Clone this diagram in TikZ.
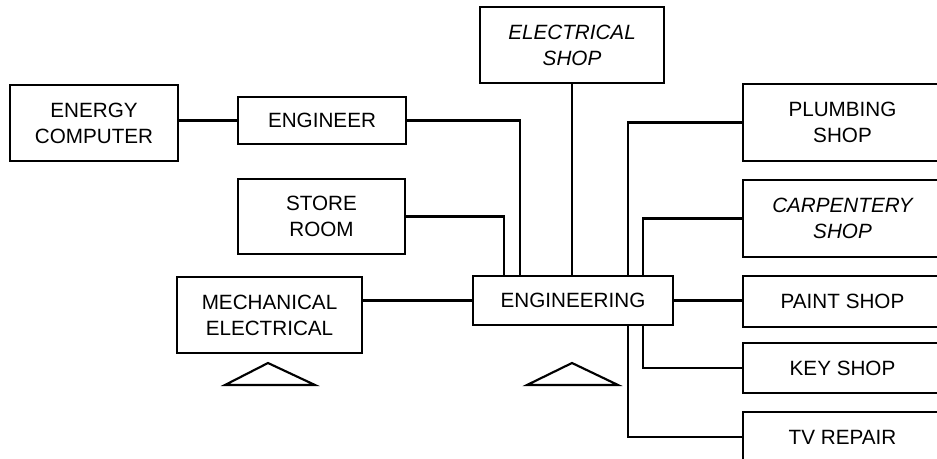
\documentclass[tikz,border=0pt]{standalone}
\usepackage{fontspec}
\setmainfont{Liberation Sans}
\begin{document}
\begin{tikzpicture}[x=0.75pt,y=-0.75pt,
  box/.style={draw=black,line width=1.7pt,fill=white,rectangle,inner sep=0pt,align=center,
    font=\fontsize{15.5}{19.5}\selectfont},
  conn/.style={draw=black,line width=1.6pt},
  tri/.style={draw=black,line width=1.6pt,line join=miter}]
\useasboundingbox (0,0) rectangle (937,459);
\clip (0,0) rectangle (937,459);
\fill[white] (0,0) rectangle (937,459);
% boxes
\node[box,minimum width=126pt,minimum height=57pt] (ec) at (94,123) {ENERGY\\COMPUTER};
\node[box,minimum width=126pt,minimum height=35.25pt] (eng1) at (322,120.5) {ENGINEER};
\node[box,minimum width=125.25pt,minimum height=56.25pt] (store) at (321.5,216.5) {STORE\\ROOM};
\node[box,minimum width=138pt,minimum height=57pt] (elec) at (572,45) {\itshape ELECTRICAL\\\itshape SHOP};
\node[box,minimum width=150pt,minimum height=36.75pt] (engr) at (573,300.5) {ENGINEERING};
\node[box,minimum width=138.75pt,minimum height=57pt] (mech) at (269.5,315) {MECHANICAL\\ELECTRICAL};
\node[box,minimum width=149.25pt,minimum height=57.75pt] (plumb) at (842.5,122.5) {PLUMBING\\SHOP};
\node[box,minimum width=149.25pt,minimum height=57.75pt] (carp) at (842.5,218.5) {\itshape CARPENTERY\\\itshape SHOP};
\node[box,minimum width=149.25pt,minimum height=38.25pt] (paint) at (842.5,301.5) {PAINT SHOP};
\node[box,minimum width=149.25pt,minimum height=37.5pt] (key) at (842.5,368) {KEY SHOP};
\node[box,minimum width=149.25pt,minimum height=37.5pt] (tv) at (842.5,437) {TV REPAIR};
% junction points on ENGINEERING
\coordinate (a1) at (520,276);
\coordinate (a2) at (504,276);
\coordinate (a3) at (628,276);
\coordinate (a4) at (643,276);
\coordinate (b1) at (643,325);
\coordinate (b2) at (628,325);
% connectors
\draw[conn] (ec.east |- eng1.west) -- (eng1.west);
\draw[conn] (eng1.east) -| (a1);
\draw[conn] (store.east) -| (a2);
\draw[conn] (elec.south) -- (engr.north -| elec.south);
\draw[conn] (plumb.west) -| (a3);
\draw[conn] (carp.west) -| (a4);
\draw[conn] (engr.west) -- (engr.west -| mech.east);
\draw[conn] (engr.east) -- (paint.west |- engr.east);
\draw[conn] (key.west) -| (b1);
\draw[conn] (tv.west) -| (b2);
% triangles
\draw[tri] (225,385) -- (268,363) -- (315,385) -- cycle;
\draw[tri] (527,385) -- (572,363) -- (618,385) -- cycle;
\end{tikzpicture}
\end{document}
